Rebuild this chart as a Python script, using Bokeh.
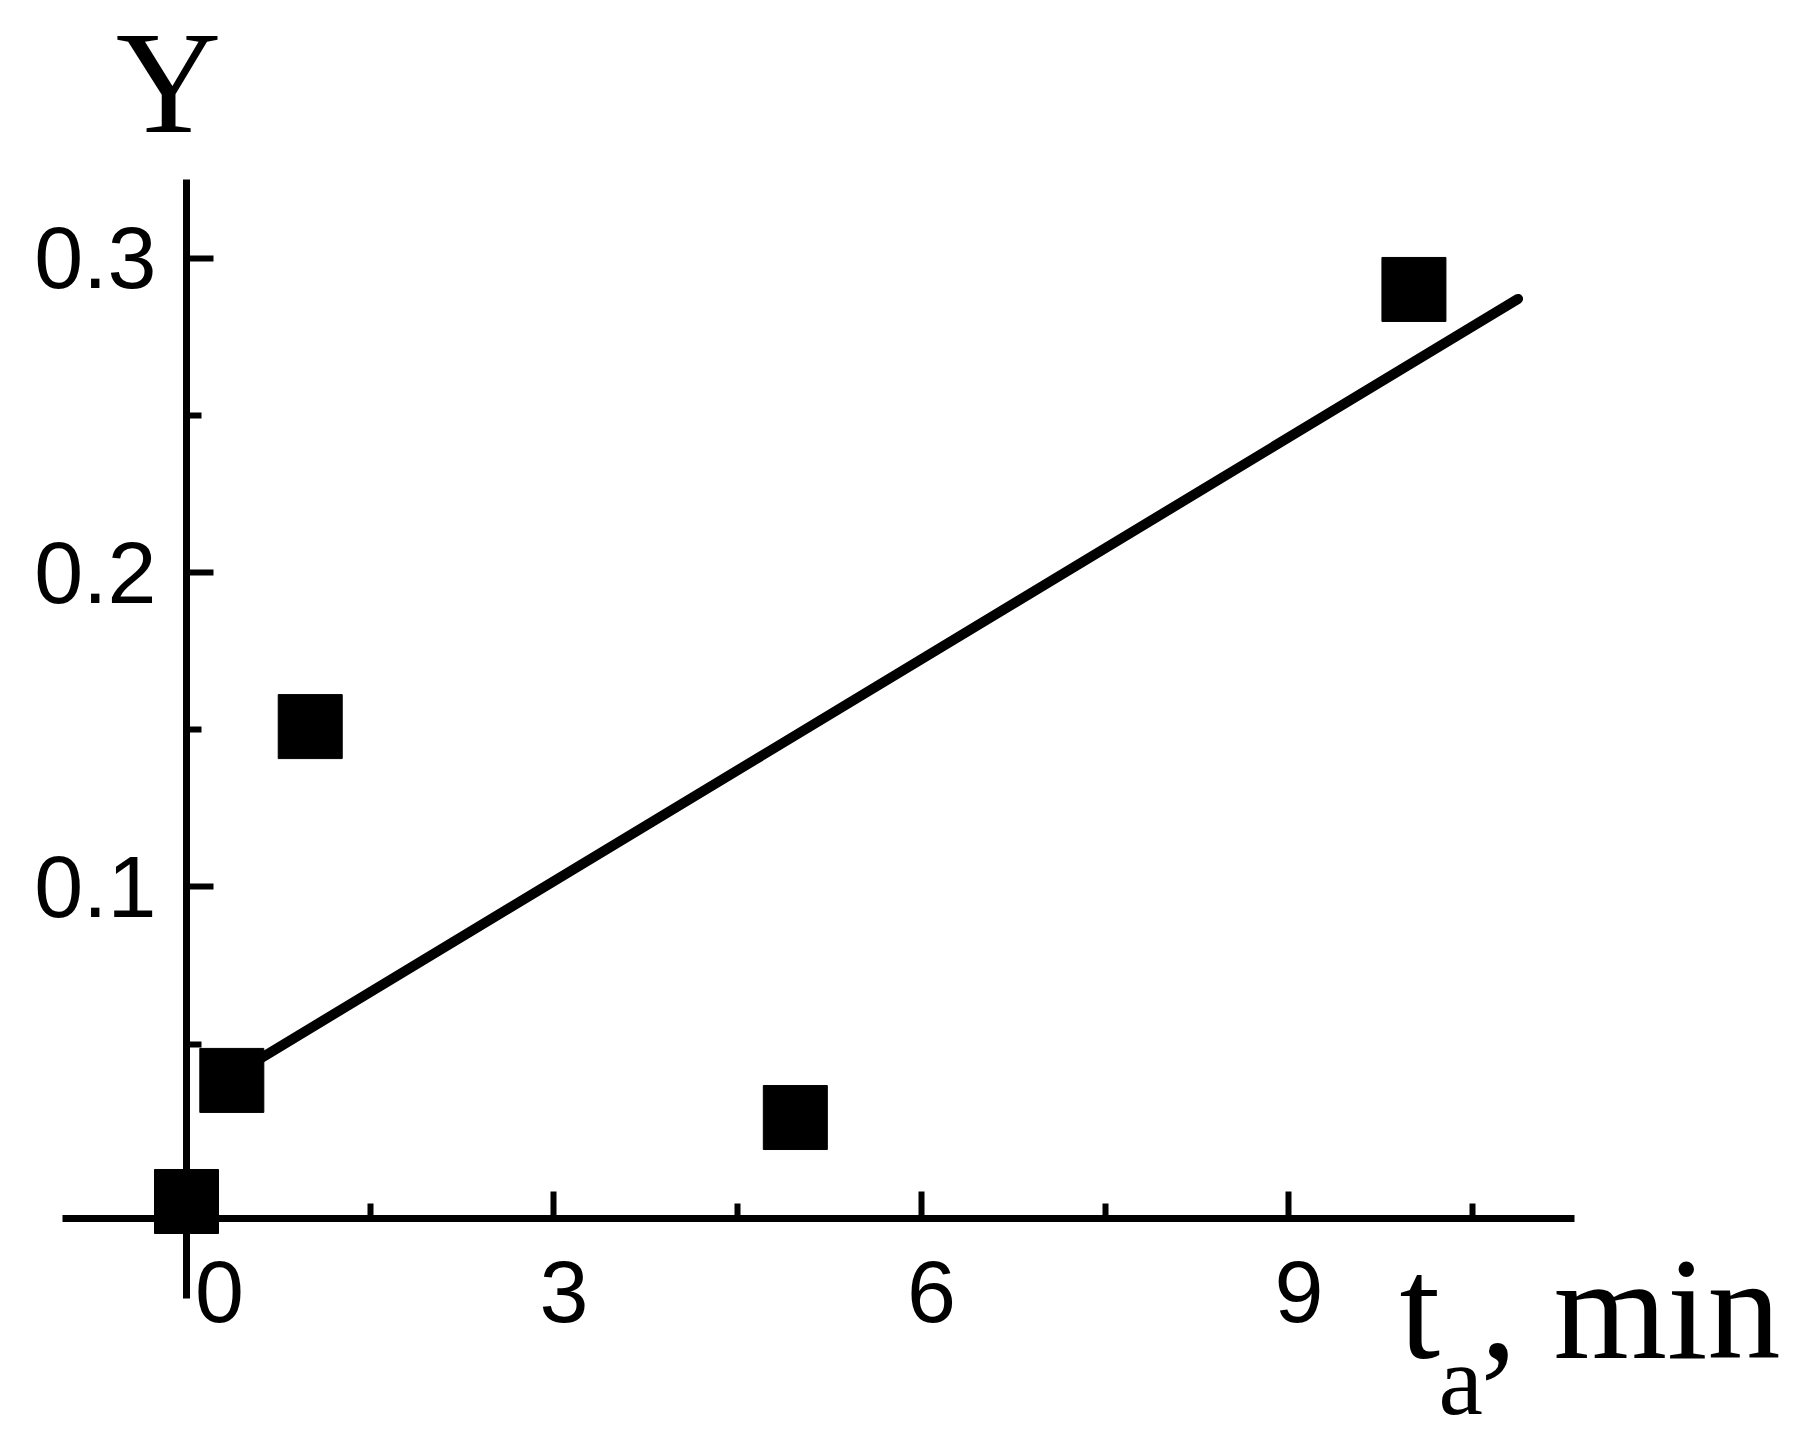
from bokeh.plotting import figure
from bokeh.models import Range1d, LinearAxis, FixedTicker
from bokeh.core.properties import value
from bokeh.embed import file_html
from bokeh.resources import INLINE

# ---- data ----
t_min = [0.0, 0.37, 1.01, 4.97, 10.02]
Y_vals = [0.0, 0.0385, 0.151, 0.0267, 0.290]

fit_t = [0.37, 10.87]
fit_Y = [0.040, 0.2870]

x_ticks = [0, 3, 6, 9]
x_tick_labels = ["0", "3", "6", "9"]
x_minor = [1.5, 4.5, 7.5, 10.5]
y_ticks = [0.1, 0.2, 0.3]
y_minor = [0.05, 0.15, 0.25]

# label shifts (px) of the x tick labels, as in the original
x_label_shift = [33, 10, 10, 10]

p = figure(width=1796, height=1439,
           x_range=Range1d(-1.5184, 13.143), y_range=Range1d(-0.07568, 0.38188),
           x_axis_type=None, y_axis_type=None,
           toolbar_location=None, output_backend="svg",
           min_border=0, outline_line_color=None)
p.grid.visible = False
p.background_fill_color = "white"
p.border_fill_color = "white"

def style(ax):
    ax.axis_line_width = 7
    ax.axis_line_color = "black"
    ax.major_tick_line_width = 6
    ax.minor_tick_line_width = 6
    ax.major_tick_in = 27
    ax.major_tick_out = 0
    ax.minor_tick_in = 15
    ax.minor_tick_out = 0
    ax.major_label_text_font = "Liberation Sans"
    ax.major_label_text_font_size = "88px"
    ax.major_label_text_color = "black"

xaxis = LinearAxis(ticker=FixedTicker(ticks=x_ticks, minor_ticks=x_minor),
                   fixed_location=-0.0054, bounds=(-1.01, 11.33))
style(xaxis)
xaxis.major_label_overrides = {t: "" for t in x_ticks}
p.add_layout(xaxis, "below")

yaxis = LinearAxis(ticker=FixedTicker(ticks=y_ticks, minor_ticks=y_minor),
                   fixed_location=0, bounds=(-0.031, 0.325))
style(yaxis)
yaxis.major_label_standoff = 30
p.add_layout(yaxis, "left")

p.line(fit_t, fit_Y, line_width=10, line_color="black", line_cap="round")
p.scatter(t_min, Y_vals, marker="square", size=64, fill_color="black", line_color="black")

sans = value("Liberation Sans")
serif = value("Liberation Serif")

# x tick labels (shifted right as in the original)
p.text(x=x_ticks, y=[-0.0288] * len(x_ticks), text=x_tick_labels, x_offset=x_label_shift,
       text_font=sans, text_font_size="88px", text_align="center",
       text_baseline="alphabetic", text_color="black")

p.text(x=[-0.147], y=[0.3558], text=["Y"], text_font=serif, text_font_size="146px",
       text_align="center", text_baseline="alphabetic", text_color="black")
p.text(x=[9.902], y=[-0.0343], text=["t"], text_font=serif, text_font_size="146px",
       text_align="left", text_baseline="alphabetic", text_color="black")
p.text(x=[10.22], y=[-0.0569], text=["a"], text_font=serif, text_font_size="100px",
       text_align="left", text_baseline="alphabetic", text_color="black")
p.text(x=[10.563], y=[-0.0343], text=[", min"], text_font=serif, text_font_size="146px",
       text_align="left", text_baseline="alphabetic", text_color="black")

open("out.html", "w").write(file_html(p, INLINE))
